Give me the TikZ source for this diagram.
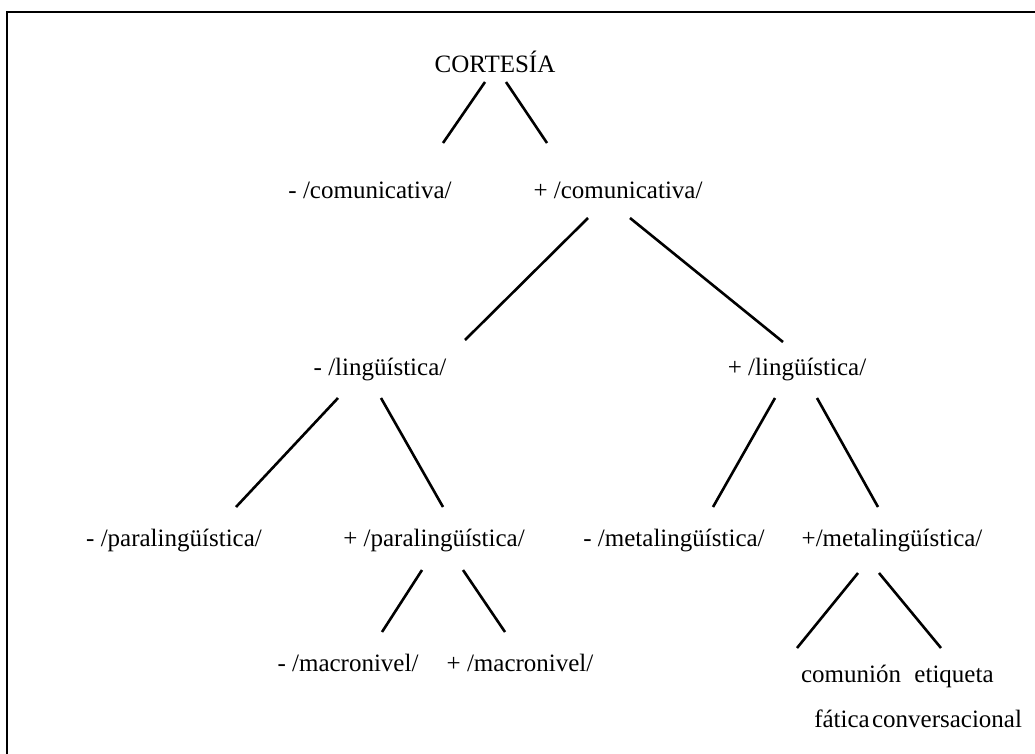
\documentclass[tikz,border=0pt]{standalone}
\usepackage{fontspec}
\setmainfont{Liberation Serif}
\begin{document}
\begin{tikzpicture}[x=1pt,y=-1pt,
  lbl/.style={inner sep=0pt,anchor=base,font=\fontsize{25}{30}\selectfont},
  branch/.style={line width=2.6pt,line cap=butt},
  frame/.style={line width=2.2pt,black}]
\clip (0,0) rectangle (1035,753);
\useasboundingbox (0,0) rectangle (1035,753);
\draw[frame] (7,800) -- (7,12) -- (1100,12);

\node[lbl] (cort) at (495,72) {CORTESÍA};
\node[lbl] (cm) at (370,198) {- /comunicativa/};
\node[lbl] (cp) at (618,198) {+ /comunicativa/};
\node[lbl] (lm) at (380,375) {- /lingüística/};
\node[lbl] (lp) at (797,375) {+ /lingüística/};
\node[lbl] (pm) at (174,546) {- /paralingüística/};
\node[lbl] (pp) at (434,546) {+ /paralingüística/};
\node[lbl] (mm) at (674,546) {- /metalingüística/};
\node[lbl] (mp) at (892,546) {+/metalingüística/};
\node[lbl] (am) at (348,671) {- /macronivel/};
\node[lbl] (ap) at (520,671) {+ /macronivel/};
\node[lbl] (co1) at (851,682) {comunión};
\node[lbl] (co2) at (842,727) {fática};
\node[lbl] (et1) at (954,682) {etiqueta};
\node[lbl] (et2) at (947,727) {conversacional};

\coordinate (c0l) at (485,82);  \coordinate (c1l) at (443,143);
\coordinate (c0r) at (506,82);  \coordinate (c1r) at (547,143);
\coordinate (p0l) at (588,218); \coordinate (p1l) at (465,340);
\coordinate (p0r) at (630,218); \coordinate (p1r) at (783,342);
\coordinate (l0l) at (338,398); \coordinate (l1l) at (236,507);
\coordinate (l0r) at (381,398); \coordinate (l1r) at (443,507);
\coordinate (m0l) at (775,398); \coordinate (m1l) at (713,507);
\coordinate (m0r) at (817,398); \coordinate (m1r) at (878,507);
\coordinate (a0l) at (422,570); \coordinate (a1l) at (382,632);
\coordinate (a0r) at (463,570); \coordinate (a1r) at (505,632);
\coordinate (t0l) at (858,573); \coordinate (t1l) at (797,648);
\coordinate (t0r) at (879,573); \coordinate (t1r) at (941,648);

\draw[branch] (c0l) -- (c1l);
\draw[branch] (c0r) -- (c1r);
\draw[branch] (p0l) -- (p1l);
\draw[branch] (p0r) -- (p1r);
\draw[branch] (l0l) -- (l1l);
\draw[branch] (l0r) -- (l1r);
\draw[branch] (m0l) -- (m1l);
\draw[branch] (m0r) -- (m1r);
\draw[branch] (a0l) -- (a1l);
\draw[branch] (a0r) -- (a1r);
\draw[branch] (t0l) -- (t1l);
\draw[branch] (t0r) -- (t1r);
\end{tikzpicture}
\end{document}
